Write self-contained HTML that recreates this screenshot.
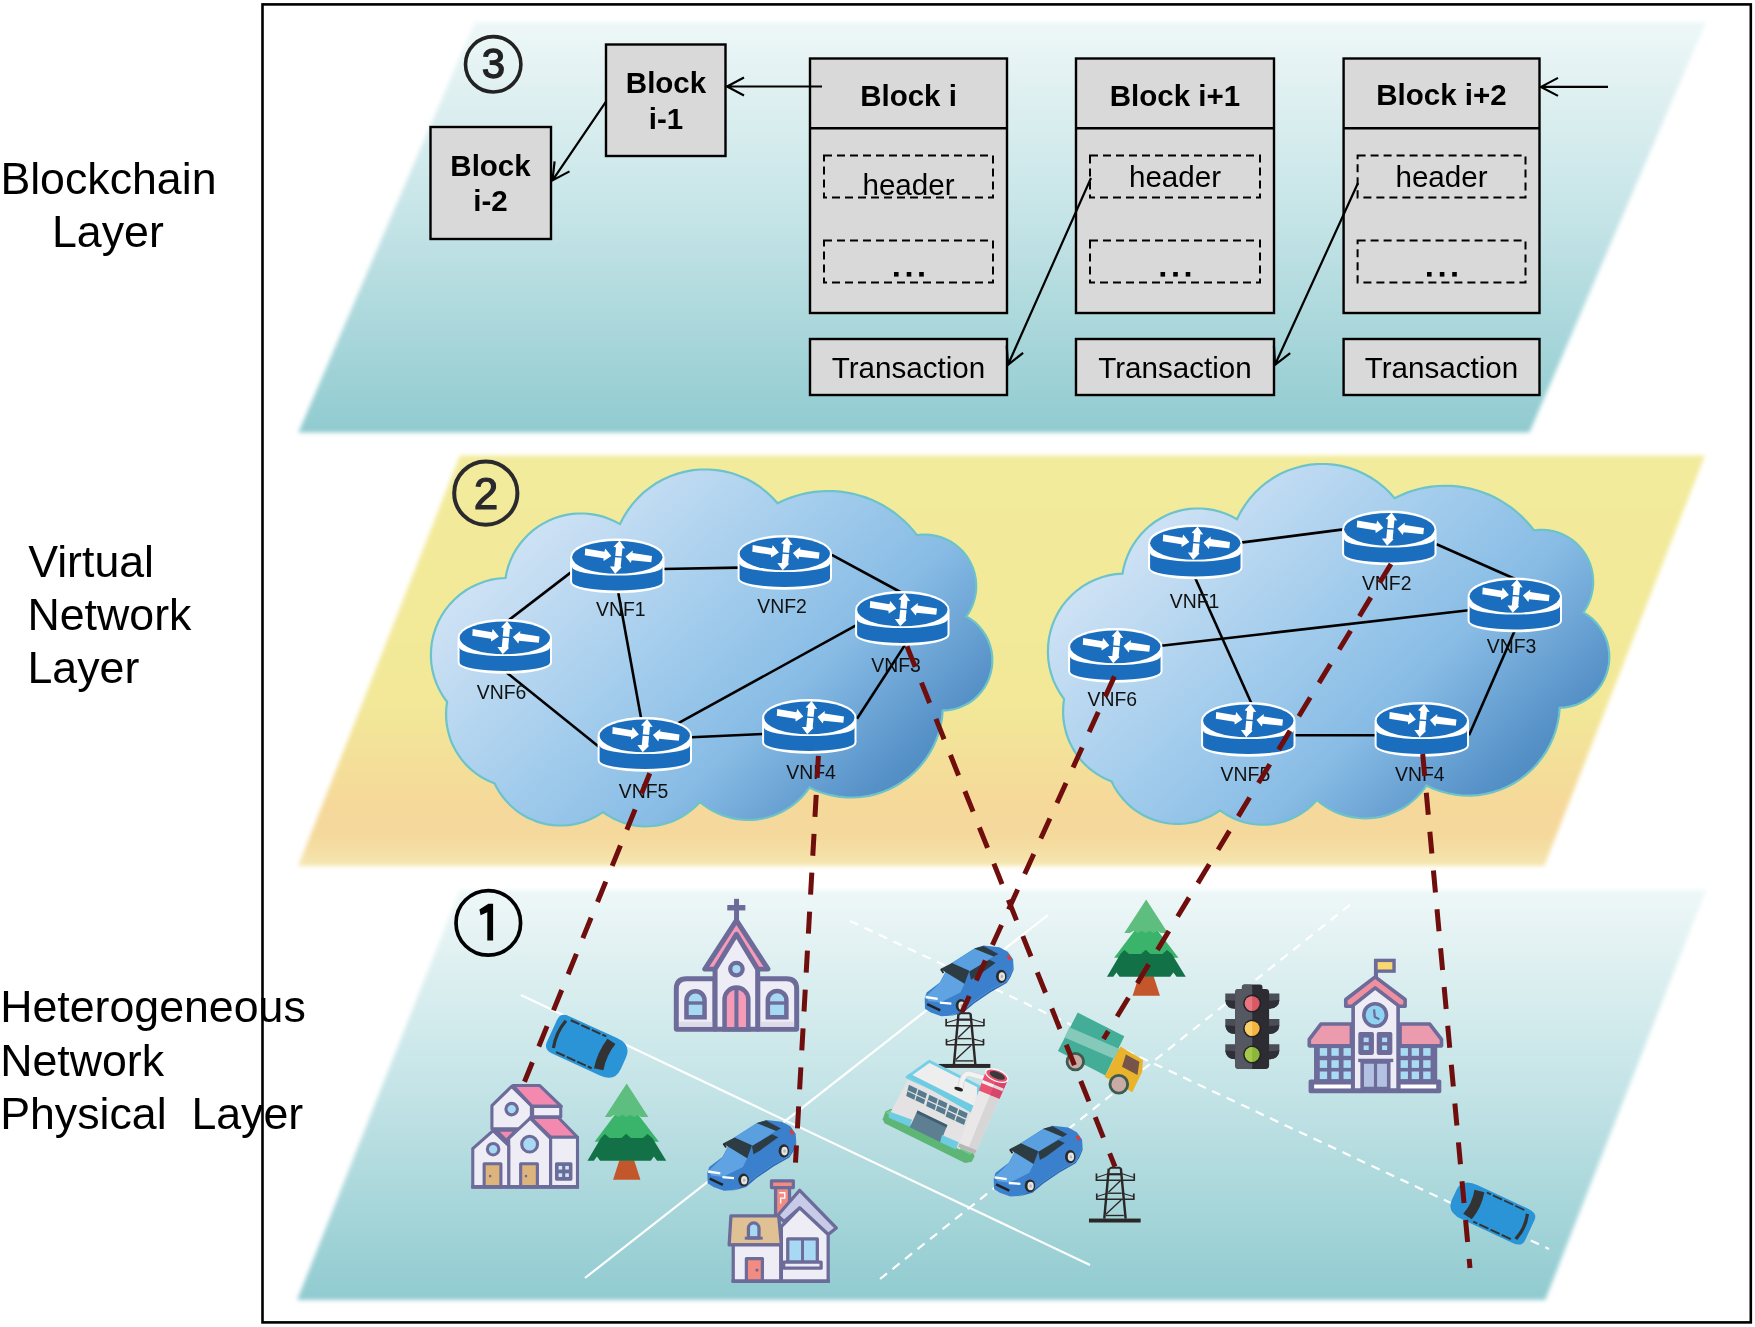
<!DOCTYPE html>
<html><head><meta charset="utf-8"><style>
html,body{margin:0;padding:0;background:#fff;}
body{width:1755px;height:1327px;overflow:hidden;}
svg{display:block;will-change:transform;}
</style></head><body>
<svg width="1755" height="1327" viewBox="0 0 1755 1327">
<defs>
<linearGradient id="gTeal" x1="0" y1="0" x2="0" y2="1">
 <stop offset="0" stop-color="#eef7f7"/><stop offset="0.5" stop-color="#c3e3e6"/><stop offset="1" stop-color="#90cbd0"/>
</linearGradient>
<linearGradient id="gYel" x1="0" y1="0" x2="0" y2="1">
 <stop offset="0" stop-color="#f2eb9b"/><stop offset="0.6" stop-color="#f2e898"/><stop offset="0.86" stop-color="#f5d89a"/><stop offset="0.93" stop-color="#f5d99c"/><stop offset="1" stop-color="#f4e6b0"/>
</linearGradient>
<linearGradient id="gCloud" gradientUnits="userSpaceOnUse" x1="520" y1="512" x2="900" y2="917">
 <stop offset="0" stop-color="#d3e4f5"/><stop offset="0.33" stop-color="#a6ceed"/><stop offset="0.57" stop-color="#88bce5"/><stop offset="0.8" stop-color="#5590c7"/><stop offset="1" stop-color="#4379b6"/>
</linearGradient>
<linearGradient id="gCloud2" href="#gCloud" gradientTransform="translate(617,-5)"/>
<filter id="soft" x="-5%" y="-5%" width="110%" height="110%"><feGaussianBlur stdDeviation="2.1"/></filter>
<g id="router">
 <path d="M1.2,18.3 A46,17.6 0 0 1 93.4,18.3 L93.4,43 A46,10.2 0 0 1 1.2,43 Z" fill="#fff" stroke="#fff" stroke-width="2.2"/>
 <path d="M2.1,27.9 L2.1,43 A45.2,8.4 0 0 0 92.5,43 L92.5,27.9 A45.2,8.7 0 0 1 2.1,27.9 Z" fill="#1b6ebd"/>
 <ellipse cx="47.3" cy="18.3" rx="45.2" ry="16.4" fill="#1b6ebd"/>
 <path d="M15.2,9.6 L34.4,12.7 L35.2,9.6 L41.4,17 L33.7,22.1 L33.4,19.3 L14.8,16.3 Z" fill="#fff"/>
 <path d="M82,17 L62.6,14 L62.8,11.6 L55.4,17.5 L60.8,24 L61.6,21.2 L81.3,23.2 Z" fill="#fff"/>
 <path d="M49.6,1.4 L55.2,9.4 L52.4,9.2 L50.7,27.7 L51.5,28.4 L45.2,34.8 L39.9,27.6 L44.3,27.6 L46,8.4 L43.6,7.8 Z" fill="#fff"/>
 <path d="M41.5,17.2 L55.5,18.4" stroke="#1b6ebd" stroke-width="1.4"/>
</g>
</defs>
<rect x="262.5" y="4.4" width="1488.3" height="1318" fill="none" stroke="#000" stroke-width="2.6"/>
<path d="M475,22 L1706,22 L1529.4,432.5 L298.4,432.5 Z" fill="url(#gTeal)" filter="url(#soft)"/>
<path d="M460,455.5 L1705,455.5 L1544.2,866 L298.2,866 Z" fill="url(#gYel)" filter="url(#soft)"/>
<path d="M460,890 L1706,890 L1545.2,1300 L297.2,1300 Z" fill="url(#gTeal)" filter="url(#soft)"/>
<g font-family="'Liberation Sans', sans-serif" font-size="44.7" fill="#000">
<text x="0.4" y="194">Blockchain</text>
<text x="52" y="247.4">Layer</text>
<text x="28.2" y="576.7">Virtual</text>
<text x="27.5" y="630">Network</text>
<text x="27.5" y="683.3">Layer</text>
<text x="0.2" y="1022.2">Heterogeneous</text>
<text x="0.2" y="1075.6">Network</text>
<text x="0.2" y="1129.4" xml:space="preserve">Physical  Layer</text>
</g>
<circle cx="493.2" cy="64.3" r="27.7" fill="none" stroke="#222" stroke-width="3.6"/>
<text x="493.4" y="78" font-family="'Liberation Sans', sans-serif" font-size="42" text-anchor="middle" fill="#222" stroke="#222" stroke-width="1.3">3</text>
<circle cx="485.8" cy="493.1" r="31.6" fill="none" stroke="#2a2a2e" stroke-width="4"/>
<text x="486" y="508.6" font-family="'Liberation Sans', sans-serif" font-size="44" text-anchor="middle" fill="#2a2a2e" stroke="#2a2a2e" stroke-width="1.2">2</text>
<circle cx="488.3" cy="922.9" r="32.3" fill="none" stroke="#000" stroke-width="3.7"/>
<path d="M487.3,940.4 L487.3,912.2 L480.6,915.2 L479.4,909.6 L488.4,903.8 L493.1,903.8 L493.1,940.4 Z" fill="#000"/>
<rect x="606.0" y="44.5" width="119.5" height="111.5" fill="#d9d9d9" stroke="#000" stroke-width="2.4"/>
<rect x="430.5" y="127.0" width="120.5" height="112.0" fill="#d9d9d9" stroke="#000" stroke-width="2.4"/>
<g font-family="'Liberation Sans', sans-serif" font-size="29.5" font-weight="bold" text-anchor="middle" fill="#000">
<text x="666" y="92.7">Block</text><text x="666" y="128.5">i-1</text>
<text x="490.5" y="175.5">Block</text><text x="490.5" y="211.3">i-2</text>
</g>
<rect x="810.0" y="58.5" width="197.0" height="254.5" fill="#d9d9d9" stroke="#000" stroke-width="2.4"/>
<line x1="810.0" y1="128.3" x2="1007.0" y2="128.3" stroke="#000" stroke-width="2.4"/>
<text x="908.5" y="106.0" font-family="'Liberation Sans', sans-serif" font-size="29.5" font-weight="bold" text-anchor="middle">Block i</text>
<rect x="824.0" y="155.5" width="169.0" height="42" fill="none" stroke="#000" stroke-width="2" stroke-dasharray="8,5"/>
<rect x="824.0" y="240.5" width="169.0" height="42" fill="none" stroke="#000" stroke-width="2" stroke-dasharray="8,5"/>
<text x="908.5" y="195.3" font-family="'Liberation Sans', sans-serif" font-size="29.6" text-anchor="middle">header</text>
<rect x="894.0" y="272" width="4.6" height="4.6" fill="#000"/>
<rect x="906.7" y="272" width="4.6" height="4.6" fill="#000"/>
<rect x="919.2" y="272" width="4.6" height="4.6" fill="#000"/>
<rect x="810.0" y="339.0" width="197.0" height="56.0" fill="#d9d9d9" stroke="#000" stroke-width="2.4"/>
<text x="908.5" y="377.6" font-family="'Liberation Sans', sans-serif" font-size="29.6" text-anchor="middle">Transaction</text>
<rect x="1076.0" y="58.5" width="198.0" height="254.5" fill="#d9d9d9" stroke="#000" stroke-width="2.4"/>
<line x1="1076.0" y1="128.3" x2="1274.0" y2="128.3" stroke="#000" stroke-width="2.4"/>
<text x="1175.0" y="106.0" font-family="'Liberation Sans', sans-serif" font-size="29.5" font-weight="bold" text-anchor="middle">Block i+1</text>
<rect x="1090.0" y="155.5" width="170.0" height="42" fill="none" stroke="#000" stroke-width="2" stroke-dasharray="8,5"/>
<rect x="1090.0" y="240.5" width="170.0" height="42" fill="none" stroke="#000" stroke-width="2" stroke-dasharray="8,5"/>
<text x="1175.0" y="186.7" font-family="'Liberation Sans', sans-serif" font-size="29.6" text-anchor="middle">header</text>
<rect x="1160.5" y="272" width="4.6" height="4.6" fill="#000"/>
<rect x="1173.2" y="272" width="4.6" height="4.6" fill="#000"/>
<rect x="1185.7" y="272" width="4.6" height="4.6" fill="#000"/>
<rect x="1076.0" y="339.0" width="198.0" height="56.0" fill="#d9d9d9" stroke="#000" stroke-width="2.4"/>
<text x="1175.0" y="377.6" font-family="'Liberation Sans', sans-serif" font-size="29.6" text-anchor="middle">Transaction</text>
<rect x="1343.6" y="58.5" width="195.9" height="254.5" fill="#d9d9d9" stroke="#000" stroke-width="2.4"/>
<line x1="1343.6" y1="128.3" x2="1539.5" y2="128.3" stroke="#000" stroke-width="2.4"/>
<text x="1441.5" y="104.8" font-family="'Liberation Sans', sans-serif" font-size="29.5" font-weight="bold" text-anchor="middle">Block i+2</text>
<rect x="1357.6" y="155.5" width="167.9" height="42" fill="none" stroke="#000" stroke-width="2" stroke-dasharray="8,5"/>
<rect x="1357.6" y="240.5" width="167.9" height="42" fill="none" stroke="#000" stroke-width="2" stroke-dasharray="8,5"/>
<text x="1441.5" y="186.7" font-family="'Liberation Sans', sans-serif" font-size="29.6" text-anchor="middle">header</text>
<rect x="1427.0" y="272" width="4.6" height="4.6" fill="#000"/>
<rect x="1439.8" y="272" width="4.6" height="4.6" fill="#000"/>
<rect x="1452.2" y="272" width="4.6" height="4.6" fill="#000"/>
<rect x="1343.6" y="339.0" width="195.9" height="56.0" fill="#d9d9d9" stroke="#000" stroke-width="2.4"/>
<text x="1441.5" y="377.6" font-family="'Liberation Sans', sans-serif" font-size="29.6" text-anchor="middle">Transaction</text>
<path d="M822.0,86.5 L727.0,86.5 M744.0,77.5 L727.0,86.5 L744.0,95.5" fill="none" stroke="#000" stroke-width="2.2"/>
<path d="M605.8,101.8 L552.5,180.4 M554.6,161.3 L552.5,180.4 L569.5,171.4" fill="none" stroke="#000" stroke-width="2.2"/>
<path d="M1608.0,86.9 L1541.0,86.9 M1558.0,77.9 L1541.0,86.9 L1558.0,95.9" fill="none" stroke="#000" stroke-width="2.2"/>
<path d="M1091.0,178.0 L1008.0,364.8 M1006.7,345.6 L1008.0,364.8 L1023.1,352.9" fill="none" stroke="#000" stroke-width="2.2"/>
<path d="M1358.0,183.0 L1275.0,364.8 M1273.9,345.6 L1275.0,364.8 L1290.2,353.1" fill="none" stroke="#000" stroke-width="2.2"/>
<path d="M447.1,702.0L443.0,696.2L439.5,690.1L436.5,683.7L434.2,677.1L432.4,670.3L431.3,663.3L430.9,656.2L431.1,649.2L431.9,642.2L433.4,635.3L435.5,628.6L438.2,622.0L441.5,615.8L445.3,609.9L449.7,604.4L454.6,599.3L459.9,594.6L465.6,590.5L471.7,586.9L478.1,583.9L484.7,581.5L491.5,579.7L498.5,578.5L505.5,578.0L505.5,578.0L506.7,571.9L508.4,565.9L510.6,560.1L513.2,554.5L516.3,549.1L519.9,544.0L523.8,539.2L528.1,534.7L532.7,530.6L537.7,526.9L543.0,523.6L548.5,520.7L554.2,518.3L560.1,516.4L566.1,514.9L572.3,513.9L578.4,513.5L584.7,513.5L590.8,514.1L597.0,515.1L603.0,516.6L608.8,518.7L614.5,521.2L620.0,524.1L620.0,524.1L623.6,517.1L627.8,510.4L632.5,504.1L637.7,498.2L643.4,492.7L649.6,487.8L656.1,483.3L663.0,479.5L670.2,476.2L677.7,473.6L685.3,471.6L693.1,470.2L700.9,469.5L708.8,469.5L716.7,470.1L724.5,471.4L732.1,473.3L739.6,475.9L746.8,479.1L753.7,482.8L760.3,487.2L766.5,492.1L772.3,497.5L777.6,503.3L777.6,503.3L783.4,500.5L789.4,498.1L795.6,496.0L801.8,494.2L808.1,492.9L814.5,491.9L821.0,491.3L827.4,491.0L833.9,491.2L840.4,491.7L846.8,492.6L853.1,493.8L859.4,495.5L865.5,497.4L871.6,499.8L877.5,502.5L883.2,505.5L888.7,508.9L894.0,512.5L899.1,516.5L904.0,520.8L908.6,525.3L913.0,530.1L917.0,535.2L917.0,535.2L922.0,534.7L927.1,534.7L932.1,535.1L937.0,536.1L941.9,537.5L946.5,539.4L951.0,541.8L955.2,544.6L959.1,547.8L962.7,551.3L965.9,555.2L968.7,559.4L971.1,563.8L973.1,568.4L974.6,573.3L975.6,578.2L976.1,583.2L976.2,588.2L975.7,593.3L974.7,598.2L973.3,603.1L971.4,607.7L969.1,612.2L966.3,616.4L966.3,616.4L971.0,619.3L975.3,622.7L979.2,626.5L982.7,630.8L985.7,635.4L988.2,640.3L990.1,645.5L991.4,650.8L992.2,656.2L992.3,661.7L991.9,667.2L990.8,672.6L989.2,677.9L987.0,682.9L984.3,687.7L981.1,692.1L977.4,696.2L973.3,699.8L968.8,703.0L963.9,705.6L958.9,707.7L953.6,709.3L948.2,710.2L942.7,710.6L942.7,710.6L942.0,718.2L940.6,725.7L938.7,733.0L936.1,740.2L933.0,747.1L929.3,753.7L925.0,760.0L920.3,766.0L915.1,771.5L909.4,776.6L903.3,781.2L896.9,785.2L890.2,788.7L883.2,791.7L875.9,794.1L868.6,795.8L861.0,797.0L853.4,797.5L845.8,797.4L838.3,796.6L830.8,795.2L823.5,793.3L816.3,790.7L809.4,787.5L809.4,787.5L806.3,791.7L803.0,795.7L799.4,799.4L795.5,802.9L791.4,806.1L787.1,808.9L782.5,811.5L777.8,813.8L773.0,815.7L768.1,817.2L763.0,818.5L757.9,819.3L752.7,819.8L747.5,819.9L742.3,819.7L737.1,819.1L732.0,818.1L727.0,816.8L722.1,815.1L717.3,813.1L712.7,810.7L708.2,808.1L703.9,805.1L699.9,801.8L699.9,801.8L696.9,805.1L693.6,808.1L690.2,811.0L686.6,813.7L682.9,816.1L679.0,818.2L674.9,820.2L670.8,821.9L666.6,823.3L662.2,824.4L657.9,825.3L653.5,825.9L649.0,826.2L644.5,826.3L640.1,826.1L635.6,825.6L631.2,824.8L626.9,823.7L622.6,822.4L618.5,820.8L614.4,819.0L610.5,816.9L606.7,814.6L603.0,812.0L603.0,812.0L598.6,814.9L593.9,817.5L589.1,819.8L584.1,821.7L579.0,823.2L573.8,824.3L568.5,825.1L563.2,825.5L557.9,825.5L552.6,825.1L547.3,824.3L542.1,823.1L537.0,821.6L532.0,819.6L527.2,817.4L522.6,814.8L518.1,811.8L513.9,808.5L510.0,805.0L506.3,801.1L502.9,797.0L499.8,792.7L497.0,788.1L494.6,783.4L494.6,783.4L490.6,781.8L486.8,780.0L483.0,778.0L479.4,775.8L475.9,773.4L472.5,770.7L469.3,767.9L466.3,764.9L463.5,761.7L460.8,758.4L458.4,754.9L456.1,751.3L454.1,747.6L452.2,743.7L450.6,739.8L449.3,735.7L448.2,731.6L447.3,727.4L446.6,723.2L446.2,719.0L446.1,714.7L446.2,710.5L446.5,706.2L447.1,702.0Z" fill="url(#gCloud)" stroke="#6cc3c9" stroke-width="2.2"/>
<path d="M1064.1,699.1L1060.0,693.2L1056.5,687.1L1053.5,680.6L1051.2,673.9L1049.4,667.0L1048.3,659.9L1047.9,652.8L1048.1,645.7L1048.9,638.6L1050.4,631.6L1052.5,624.8L1055.2,618.2L1058.5,611.9L1062.3,605.9L1066.7,600.4L1071.6,595.2L1076.9,590.5L1082.6,586.3L1088.7,582.7L1095.1,579.7L1101.7,577.2L1108.5,575.4L1115.5,574.2L1122.5,573.7L1122.5,573.7L1123.7,567.5L1125.4,561.5L1127.6,555.6L1130.2,550.0L1133.3,544.5L1136.9,539.3L1140.8,534.5L1145.1,530.0L1149.7,525.8L1154.7,522.0L1160.0,518.7L1165.5,515.8L1171.2,513.3L1177.1,511.4L1183.1,509.9L1189.3,508.9L1195.4,508.5L1201.7,508.5L1207.8,509.1L1214.0,510.1L1220.0,511.7L1225.8,513.7L1231.5,516.2L1237.0,519.2L1237.0,519.2L1240.6,512.1L1244.8,505.3L1249.5,498.9L1254.7,493.0L1260.4,487.5L1266.6,482.5L1273.1,478.0L1280.0,474.1L1287.2,470.8L1294.7,468.2L1302.3,466.1L1310.1,464.7L1317.9,464.0L1325.8,464.0L1333.7,464.6L1341.5,465.9L1349.1,467.9L1356.6,470.5L1363.8,473.7L1370.7,477.5L1377.3,481.9L1383.5,486.8L1389.3,492.3L1394.6,498.2L1394.6,498.2L1400.4,495.4L1406.4,492.9L1412.6,490.8L1418.8,489.0L1425.1,487.6L1431.5,486.6L1438.0,486.0L1444.4,485.8L1450.9,485.9L1457.4,486.4L1463.8,487.3L1470.1,488.6L1476.4,490.2L1482.5,492.3L1488.6,494.6L1494.5,497.3L1500.2,500.4L1505.7,503.8L1511.0,507.5L1516.1,511.5L1521.0,515.9L1525.6,520.5L1530.0,525.3L1534.0,530.4L1534.0,530.4L1539.0,529.9L1544.1,529.9L1549.1,530.4L1554.0,531.3L1558.9,532.8L1563.5,534.7L1568.0,537.1L1572.2,539.9L1576.1,543.1L1579.7,546.7L1582.9,550.6L1585.7,554.9L1588.1,559.3L1590.1,564.0L1591.6,568.9L1592.6,573.9L1593.1,579.0L1593.2,584.1L1592.7,589.1L1591.7,594.1L1590.3,599.0L1588.4,603.8L1586.1,608.3L1583.3,612.5L1583.3,612.5L1588.0,615.5L1592.3,618.9L1596.2,622.8L1599.7,627.1L1602.7,631.7L1605.2,636.7L1607.1,641.9L1608.4,647.3L1609.2,652.8L1609.3,658.4L1608.9,663.9L1607.8,669.3L1606.2,674.7L1604.0,679.7L1601.3,684.6L1598.1,689.1L1594.4,693.2L1590.3,696.9L1585.8,700.0L1580.9,702.7L1575.9,704.9L1570.6,706.4L1565.2,707.4L1559.7,707.8L1559.7,707.8L1559.0,715.4L1557.6,723.0L1555.7,730.4L1553.1,737.6L1550.0,744.6L1546.3,751.4L1542.0,757.7L1537.3,763.7L1532.1,769.3L1526.4,774.4L1520.3,779.1L1513.9,783.2L1507.2,786.8L1500.2,789.7L1492.9,792.1L1485.6,793.9L1478.0,795.1L1470.4,795.6L1462.8,795.5L1455.3,794.7L1447.8,793.3L1440.5,791.3L1433.3,788.7L1426.4,785.5L1426.4,785.5L1423.3,789.8L1420.0,793.8L1416.4,797.5L1412.5,801.0L1408.4,804.3L1404.1,807.2L1399.5,809.8L1394.8,812.1L1390.0,814.0L1385.1,815.6L1380.0,816.8L1374.9,817.7L1369.7,818.2L1364.5,818.3L1359.3,818.0L1354.1,817.4L1349.0,816.4L1344.0,815.1L1339.1,813.4L1334.3,811.4L1329.7,809.0L1325.2,806.3L1320.9,803.3L1316.9,800.0L1316.9,800.0L1313.9,803.3L1310.6,806.4L1307.2,809.3L1303.6,811.9L1299.9,814.4L1296.0,816.6L1291.9,818.5L1287.8,820.2L1283.6,821.7L1279.2,822.8L1274.9,823.7L1270.5,824.3L1266.0,824.7L1261.5,824.7L1257.1,824.5L1252.6,824.0L1248.2,823.2L1243.9,822.1L1239.6,820.8L1235.5,819.2L1231.4,817.3L1227.5,815.2L1223.7,812.9L1220.0,810.3L1220.0,810.3L1215.6,813.2L1210.9,815.9L1206.1,818.1L1201.1,820.0L1196.0,821.6L1190.8,822.7L1185.5,823.5L1180.2,823.9L1174.9,823.9L1169.6,823.5L1164.3,822.7L1159.1,821.5L1154.0,819.9L1149.0,818.0L1144.2,815.7L1139.6,813.1L1135.1,810.1L1130.9,806.8L1127.0,803.2L1123.3,799.3L1119.9,795.1L1116.8,790.8L1114.0,786.2L1111.6,781.4L1111.6,781.4L1107.6,779.8L1103.8,778.0L1100.0,775.9L1096.4,773.7L1092.9,771.2L1089.5,768.6L1086.3,765.7L1083.3,762.7L1080.5,759.5L1077.8,756.1L1075.4,752.6L1073.1,748.9L1071.1,745.1L1069.2,741.2L1067.6,737.2L1066.3,733.2L1065.2,729.0L1064.3,724.8L1063.6,720.5L1063.2,716.2L1063.1,711.9L1063.2,707.6L1063.5,703.3L1064.1,699.1Z" fill="url(#gCloud2)" stroke="#6cc3c9" stroke-width="2.2"/>
<line x1="508.0" y1="620.7" x2="570.6" y2="572.6" stroke="#000" stroke-width="2.6"/>
<line x1="662.7" y1="569.0" x2="738.7" y2="567.6" stroke="#000" stroke-width="2.6"/>
<line x1="831.8" y1="554.8" x2="905.0" y2="594.5" stroke="#000" stroke-width="2.6"/>
<line x1="618.3" y1="592.8" x2="641.2" y2="718.8" stroke="#000" stroke-width="2.6"/>
<line x1="505.7" y1="671.8" x2="599.8" y2="747.4" stroke="#000" stroke-width="2.6"/>
<line x1="677.0" y1="723.9" x2="856.0" y2="625.4" stroke="#000" stroke-width="2.6"/>
<line x1="691.6" y1="737.3" x2="762.9" y2="734.0" stroke="#000" stroke-width="2.6"/>
<line x1="857.0" y1="718.8" x2="905.0" y2="644.9" stroke="#000" stroke-width="2.6"/>
<line x1="1240.6" y1="542.6" x2="1343.4" y2="529.4" stroke="#000" stroke-width="2.6"/>
<line x1="1436.6" y1="544.2" x2="1517.5" y2="580.0" stroke="#000" stroke-width="2.6"/>
<line x1="1161.3" y1="645.7" x2="1468.6" y2="610.3" stroke="#000" stroke-width="2.6"/>
<line x1="1195.3" y1="578.3" x2="1251.5" y2="703.5" stroke="#000" stroke-width="2.6"/>
<line x1="1294.5" y1="735.2" x2="1375.4" y2="735.2" stroke="#000" stroke-width="2.6"/>
<line x1="1469.0" y1="735.2" x2="1515.0" y2="630.0" stroke="#000" stroke-width="2.6"/>
<use href="#router" x="570.0" y="539.0"/>
<use href="#router" x="737.5" y="535.5"/>
<use href="#router" x="855.0" y="591.5"/>
<use href="#router" x="457.5" y="619.5"/>
<use href="#router" x="597.5" y="717.5"/>
<use href="#router" x="762.0" y="699.5"/>
<use href="#router" x="1148.0" y="525.0"/>
<use href="#router" x="1342.0" y="511.0"/>
<use href="#router" x="1467.5" y="578.0"/>
<use href="#router" x="1068.0" y="628.5"/>
<use href="#router" x="1201.0" y="702.5"/>
<use href="#router" x="1374.5" y="702.5"/>
<g font-family="'Liberation Sans', sans-serif" font-size="19.4" text-anchor="middle" fill="#111">
<text x="620.8" y="616.0">VNF1</text>
<text x="782.0" y="613.0">VNF2</text>
<text x="896.0" y="671.8">VNF3</text>
<text x="501.5" y="699.0">VNF6</text>
<text x="643.6" y="797.8">VNF5</text>
<text x="811.0" y="779.0">VNF4</text>
<text x="1194.5" y="607.7">VNF1</text>
<text x="1386.7" y="589.8">VNF2</text>
<text x="1511.6" y="653.0">VNF3</text>
<text x="1112.3" y="706.0">VNF6</text>
<text x="1245.4" y="780.5">VNF5</text>
<text x="1419.8" y="780.5">VNF4</text>
</g>
<g stroke="#fff" stroke-width="2.2" fill="none">
<line x1="521" y1="995" x2="1090" y2="1265"/>
<line x1="585" y1="1278" x2="1048" y2="915"/>
<line x1="850" y1="921" x2="1549" y2="1249" stroke-dasharray="9,7"/>
<line x1="880" y1="1279" x2="1356" y2="900" stroke-dasharray="9,7"/>
</g>
<g transform="translate(665.00,890.00) scale(0.11302)">
<g fill="#6c6b99"><rect x="611" y="78" width="44" height="200"/><rect x="551" y="133" width="160" height="48"/></g>
<path d="M632,268 L352,700 L912,700 Z" fill="#f59ab7" stroke="#6c6b99" stroke-width="44" stroke-linejoin="round"/>
<path d="M443,785 L190,785 Q100,785 100,875 L100,1232 L443,1232 Z" fill="#eeedf6" stroke="#6c6b99" stroke-width="44" stroke-linejoin="round"/>
<path d="M820,785 L1075,785 Q1165,785 1165,875 L1165,1232 L820,1232 Z" fill="#eeedf6" stroke="#6c6b99" stroke-width="44" stroke-linejoin="round"/>
<rect x="125" y="1165" width="296" height="45" fill="#dddbe9"/><rect x="842" y="1165" width="300" height="45" fill="#dddbe9"/>
<path d="M632,392 L443,700 L443,1232 L820,1232 L820,700 Z" fill="#eeedf6" stroke="#6c6b99" stroke-width="44" stroke-linejoin="round"/>
<circle cx="632" cy="700" r="55" fill="#a7d9f3" stroke="#6c6b99" stroke-width="38"/>
<path d="M527,1232 L527,968 A105,105 0 0 1 737,968 L737,1232 Z" fill="#f59ab7" stroke="#6c6b99" stroke-width="40"/>
<line x1="632" y1="870" x2="632" y2="1232" stroke="#6c6b99" stroke-width="36"/>
<path d="M190,1125 L190,975 A80,80 0 0 1 350,975 L350,1125 Z" fill="#a7d9f3" stroke="#6c6b99" stroke-width="40"/>
<path d="M910,1125 L910,975 A82,82 0 0 1 1074,975 L1074,1125 Z" fill="#a7d9f3" stroke="#6c6b99" stroke-width="40"/>
<line x1="190" y1="1000" x2="350" y2="1000" stroke="#6c6b99" stroke-width="30"/>
<line x1="910" y1="1000" x2="1074" y2="1000" stroke="#6c6b99" stroke-width="30"/>
</g>
<g transform="translate(465.00,1075.00) scale(0.11966)">
<g stroke="#6c6b99" stroke-width="26" stroke-linejoin="round">
<path d="M225,450 L225,255 L390,95 L555,255 L555,450 Z" fill="#eeedf6"/>
<path d="M400,88 L625,88 L805,262 L560,262 Z" fill="#f389ae"/>
<rect x="565" y="262" width="235" height="88" fill="#eeedf6"/>
<circle cx="390" cy="285" r="48" fill="#a7d9f3"/>
<path d="M545,355 L780,355 L940,520 L715,520 Z" fill="#f389ae"/>
<rect x="715" y="520" width="225" height="415" fill="#eeedf6"/>
<rect x="765" y="742" width="120" height="128" fill="#6c6b99"/>
<path d="M262,462 L428,462 L345,548 Z" fill="#f389ae"/>
<path d="M365,935 L365,530 L545,360 L715,530 L715,935 Z" fill="#eeedf6"/>
<path d="M65,935 L65,615 L235,465 L365,590 L365,935 Z" fill="#eeedf6"/>
<circle cx="235" cy="620" r="48" fill="#a7d9f3"/>
<circle cx="540" cy="578" r="66" fill="#a7d9f3"/>
<rect x="160" y="742" width="140" height="193" fill="#dcb47c"/>
<rect x="465" y="742" width="140" height="193" fill="#dcb47c"/>
</g>
<g fill="#c9ecfa"><rect x="782" y="760" width="30" height="30"/><rect x="838" y="760" width="30" height="30"/><rect x="782" y="822" width="30" height="30"/><rect x="838" y="822" width="30" height="30"/></g>
<circle cx="210" cy="845" r="11" fill="#6c6b99"/><circle cx="510" cy="845" r="11" fill="#6c6b99"/>
<line x1="52" y1="935" x2="953" y2="935" stroke="#6c6b99" stroke-width="30"/>
</g>
<g transform="translate(1050.00,890.00) scale(0.15820)">
<path d="M562,545 L655,545 L695,668 L522,668 Z" fill="#c4562c"/>
<path d="M540,250 L675,250 L812,428 L405,428 Z" fill="#3bb46b"/>
<path d="M445,405 L470,380 L500,405 L575,405 L605,378 L635,405 L710,405 L740,380 L770,405 L858,548 L800,548 L780,522 L760,548 L440,548 L420,522 L400,548 L360,548 Z" fill="#137148"/>
<path d="M608,60 L745,272 L700,272 L680,258 L655,272 L630,258 L605,272 L580,258 L555,272 L530,258 L505,272 L470,272 Z" fill="#5dbe7f"/>
</g>
<g transform="translate(530.50,1074.00) scale(0.15820)">
<path d="M562,545 L655,545 L695,668 L522,668 Z" fill="#c4562c"/>
<path d="M540,250 L675,250 L812,428 L405,428 Z" fill="#3bb46b"/>
<path d="M445,405 L470,380 L500,405 L575,405 L605,378 L635,405 L710,405 L740,380 L770,405 L858,548 L800,548 L780,522 L760,548 L440,548 L420,522 L400,548 L360,548 Z" fill="#137148"/>
<path d="M608,60 L745,272 L700,272 L680,258 L655,272 L630,258 L605,272 L580,258 L555,272 L530,258 L505,272 L470,272 Z" fill="#5dbe7f"/>
</g>
<g transform="translate(700.00,1110.00) scale(0.13563)">
<g stroke="#6c6b99" stroke-width="24" stroke-linejoin="round">
<rect x="557" y="570" width="103" height="230" fill="#f28b82"/>
<rect x="527" y="522" width="161" height="50" fill="#f28b82"/>
<path d="M735,592 L572,778 L620,822 L735,722 L945,918 L1005,870 Z" fill="#c7cbe8"/>
<path d="M600,860 L735,722 L945,918 L945,1262 L600,1262 Z" fill="#eeedf6"/>
<path d="M228,780 L580,780 L600,995 L215,995 Z" fill="#e0c193"/>
<rect x="245" y="995" width="350" height="267" fill="#eeedf6"/>
<path d="M357,942 L357,872 A39,39 0 0 1 435,872 L435,942 Z" fill="#a7d9f3"/>
<rect x="342" y="1095" width="118" height="167" fill="#f28b82"/>
<rect x="647" y="950" width="218" height="172" fill="#a7d9f3"/>
<rect x="617" y="1122" width="276" height="44" fill="#eeedf6"/>
</g>
<line x1="330" y1="945" x2="462" y2="945" stroke="#6c6b99" stroke-width="22"/>
<line x1="756" y1="950" x2="756" y2="1122" stroke="#6c6b99" stroke-width="22"/>
<circle cx="420" cy="1180" r="12" fill="#6c6b99"/>
<line x1="232" y1="1262" x2="958" y2="1262" stroke="#6c6b99" stroke-width="26"/>
<path d="M585,610 L625,610 L625,650 L595,650 L595,690" stroke="#fff" stroke-width="10" fill="none"/>
</g>
<g transform="translate(915.00,935.00) scale(0.10546)">
<path d="M92,600 L110,545 L235,450 L300,330 L345,268 L560,130 L650,100 L800,115 L880,160 L930,230 L935,300 L905,370 L870,440 L720,520 L560,630 L440,720 L330,765 L250,770 L150,735 L95,700 Z" fill="#3a80cd"/>
<path d="M470,700 L560,630 L720,520 L870,440 L905,370 L935,300 L935,330 L905,400 L870,455 L720,540 L560,650 L460,735 L330,770 Z" fill="#2c6dbb"/>
<path d="M100,585 L235,455 L300,335 L470,462 L430,545 L240,640 L130,625 Z" fill="#5fa3e3"/>
<path d="M345,268 L560,130 L780,180 L520,345 Z" fill="#5a9fe0"/>
<path d="M240,322 L350,265 L515,340 L470,462 Z" fill="#2d3c42"/>
<path d="M560,128 L650,105 L790,180 L745,205 Z" fill="#2d3c42"/>
<path d="M515,345 L705,235 L765,262 L590,390 L530,425 Z" fill="#2d3c42"/>
<ellipse cx="436" cy="668" rx="50" ry="60" fill="#2a2a2a"/><ellipse cx="442" cy="670" rx="30" ry="40" fill="#e4e4e4"/><ellipse cx="442" cy="670" rx="12" ry="16" fill="#b8b8b8"/>
<ellipse cx="818" cy="392" rx="50" ry="62" fill="#2a2a2a"/><ellipse cx="824" cy="394" rx="30" ry="41" fill="#e4e4e4"/><ellipse cx="824" cy="394" rx="12" ry="16" fill="#b8b8b8"/>
<path d="M100,588 L215,605 M235,642 L345,650" stroke="#fff" stroke-width="22" fill="none"/>
<path d="M115,655 L240,715" stroke="#222" stroke-width="24" fill="none"/>
<path d="M880,195 L905,235" stroke="#e53935" stroke-width="28"/>
<path d="M245,325 L270,360" stroke="#222" stroke-width="16"/>
</g>
<g transform="translate(697.60,1109.50) scale(0.10546)">
<path d="M92,600 L110,545 L235,450 L300,330 L345,268 L560,130 L650,100 L800,115 L880,160 L930,230 L935,300 L905,370 L870,440 L720,520 L560,630 L440,720 L330,765 L250,770 L150,735 L95,700 Z" fill="#3a80cd"/>
<path d="M470,700 L560,630 L720,520 L870,440 L905,370 L935,300 L935,330 L905,400 L870,455 L720,540 L560,650 L460,735 L330,770 Z" fill="#2c6dbb"/>
<path d="M100,585 L235,455 L300,335 L470,462 L430,545 L240,640 L130,625 Z" fill="#5fa3e3"/>
<path d="M345,268 L560,130 L780,180 L520,345 Z" fill="#5a9fe0"/>
<path d="M240,322 L350,265 L515,340 L470,462 Z" fill="#2d3c42"/>
<path d="M560,128 L650,105 L790,180 L745,205 Z" fill="#2d3c42"/>
<path d="M515,345 L705,235 L765,262 L590,390 L530,425 Z" fill="#2d3c42"/>
<ellipse cx="436" cy="668" rx="50" ry="60" fill="#2a2a2a"/><ellipse cx="442" cy="670" rx="30" ry="40" fill="#e4e4e4"/><ellipse cx="442" cy="670" rx="12" ry="16" fill="#b8b8b8"/>
<ellipse cx="818" cy="392" rx="50" ry="62" fill="#2a2a2a"/><ellipse cx="824" cy="394" rx="30" ry="41" fill="#e4e4e4"/><ellipse cx="824" cy="394" rx="12" ry="16" fill="#b8b8b8"/>
<path d="M100,588 L215,605 M235,642 L345,650" stroke="#fff" stroke-width="22" fill="none"/>
<path d="M115,655 L240,715" stroke="#222" stroke-width="24" fill="none"/>
<path d="M880,195 L905,235" stroke="#e53935" stroke-width="28"/>
<path d="M245,325 L270,360" stroke="#222" stroke-width="16"/>
</g>
<g transform="translate(984.00,1115.30) scale(0.10546)">
<path d="M92,600 L110,545 L235,450 L300,330 L345,268 L560,130 L650,100 L800,115 L880,160 L930,230 L935,300 L905,370 L870,440 L720,520 L560,630 L440,720 L330,765 L250,770 L150,735 L95,700 Z" fill="#3a80cd"/>
<path d="M470,700 L560,630 L720,520 L870,440 L905,370 L935,300 L935,330 L905,400 L870,455 L720,540 L560,650 L460,735 L330,770 Z" fill="#2c6dbb"/>
<path d="M100,585 L235,455 L300,335 L470,462 L430,545 L240,640 L130,625 Z" fill="#5fa3e3"/>
<path d="M345,268 L560,130 L780,180 L520,345 Z" fill="#5a9fe0"/>
<path d="M240,322 L350,265 L515,340 L470,462 Z" fill="#2d3c42"/>
<path d="M560,128 L650,105 L790,180 L745,205 Z" fill="#2d3c42"/>
<path d="M515,345 L705,235 L765,262 L590,390 L530,425 Z" fill="#2d3c42"/>
<ellipse cx="436" cy="668" rx="50" ry="60" fill="#2a2a2a"/><ellipse cx="442" cy="670" rx="30" ry="40" fill="#e4e4e4"/><ellipse cx="442" cy="670" rx="12" ry="16" fill="#b8b8b8"/>
<ellipse cx="818" cy="392" rx="50" ry="62" fill="#2a2a2a"/><ellipse cx="824" cy="394" rx="30" ry="41" fill="#e4e4e4"/><ellipse cx="824" cy="394" rx="12" ry="16" fill="#b8b8b8"/>
<path d="M100,588 L215,605 M235,642 L345,650" stroke="#fff" stroke-width="22" fill="none"/>
<path d="M115,655 L240,715" stroke="#222" stroke-width="24" fill="none"/>
<path d="M880,195 L905,235" stroke="#e53935" stroke-width="28"/>
<path d="M245,325 L270,360" stroke="#222" stroke-width="16"/>
</g>
<g transform="translate(1080.00,1160.00) scale(0.05275)">
<g stroke="#2b2727" fill="none" stroke-linecap="butt">
<rect x="170" y="1110" width="980" height="75" fill="#2b2727" stroke="none"/>
<line x1="545" y1="165" x2="460" y2="1112" stroke-width="46"/>
<line x1="775" y1="165" x2="865" y2="1112" stroke-width="46"/>
<path d="M555,170 L590,148 L750,148 L785,170" stroke-width="36"/>
<line x1="530" y1="270" x2="800" y2="270" stroke-width="42"/>
<line x1="300" y1="385" x2="1035" y2="385" stroke-width="26"/>
<line x1="312" y1="255" x2="312" y2="392" stroke-width="32"/>
<line x1="1028" y1="255" x2="1028" y2="392" stroke-width="32"/>
<path d="M320,330 L530,262 M800,262 L1020,330" stroke-width="20"/>
<line x1="530" y1="630" x2="790" y2="630" stroke-width="26"/>
<line x1="310" y1="745" x2="1030" y2="745" stroke-width="26"/>
<line x1="318" y1="635" x2="318" y2="752" stroke-width="32"/>
<line x1="1020" y1="635" x2="1020" y2="752" stroke-width="32"/>
<path d="M325,690 L520,630 M800,630 L1015,690" stroke-width="20"/>
<line x1="540" y1="610" x2="770" y2="390" stroke-width="26"/>
<line x1="490" y1="1030" x2="780" y2="760" stroke-width="26"/>
<line x1="490" y1="1052" x2="830" y2="1052" stroke-width="26"/>
</g></g>
<g transform="translate(929.70,1005.40) scale(0.05275)">
<g stroke="#2b2727" fill="none" stroke-linecap="butt">
<rect x="170" y="1110" width="980" height="75" fill="#2b2727" stroke="none"/>
<line x1="545" y1="165" x2="460" y2="1112" stroke-width="46"/>
<line x1="775" y1="165" x2="865" y2="1112" stroke-width="46"/>
<path d="M555,170 L590,148 L750,148 L785,170" stroke-width="36"/>
<line x1="530" y1="270" x2="800" y2="270" stroke-width="42"/>
<line x1="300" y1="385" x2="1035" y2="385" stroke-width="26"/>
<line x1="312" y1="255" x2="312" y2="392" stroke-width="32"/>
<line x1="1028" y1="255" x2="1028" y2="392" stroke-width="32"/>
<path d="M320,330 L530,262 M800,262 L1020,330" stroke-width="20"/>
<line x1="530" y1="630" x2="790" y2="630" stroke-width="26"/>
<line x1="310" y1="745" x2="1030" y2="745" stroke-width="26"/>
<line x1="318" y1="635" x2="318" y2="752" stroke-width="32"/>
<line x1="1020" y1="635" x2="1020" y2="752" stroke-width="32"/>
<path d="M325,690 L520,630 M800,630 L1015,690" stroke-width="20"/>
<line x1="540" y1="610" x2="770" y2="390" stroke-width="26"/>
<line x1="490" y1="1030" x2="780" y2="760" stroke-width="26"/>
<line x1="490" y1="1052" x2="830" y2="1052" stroke-width="26"/>
</g></g>
<g transform="translate(875.00,1050.00) scale(0.09044)">
<path d="M85,765 L115,680 L175,650 L1080,1115 L1100,1175 L1070,1235 L995,1250 L105,810 Z" fill="#5db676"/>
<path d="M120,690 L175,660 L1070,1120 L1060,1160 L150,720 Z" fill="#72c98a"/>
<path d="M165,705 L360,330 L1130,660 L940,1100 Z" fill="#e4e2e2"/>
<path d="M355,300 L600,125 L1145,400 L1140,660 Z" fill="#efeeee" stroke="#74cfe7" stroke-width="32" stroke-linejoin="round"/>
<path d="M352,285 L385,262 L1140,640 L1110,722 Z" fill="#6dcbe2"/>
<g fill="#567b8f">
<path d="M375,385 L575,480 L540,600 L345,510 Z"/>
<path d="M600,495 L800,590 L770,715 L565,620 Z"/>
<path d="M825,605 L1025,700 L985,830 L780,735 Z"/>
</g>
<g stroke="#e4e2e2" stroke-width="14"><path d="M475,432 L440,555 M360,450 L560,545 M700,542 L667,668 M583,560 L785,652 M925,652 L882,782 M805,670 L1005,765"/></g>
<path d="M470,670 L800,830 L725,1020 L385,855 Z" fill="#5e7f92"/>
<path d="M470,670 L800,830 L790,858 L460,700 Z" fill="#3f5f70"/>
<path d="M160,680 L410,770 L385,850 L150,750 Z" fill="#6dcbe2"/>
<path d="M740,940 L925,1020 L895,1100 L720,1020 Z" fill="#6dcbe2"/>
<path d="M945,430 C950,330 985,262 1040,262 L1205,310" stroke="#d8d6d6" stroke-width="66" fill="none"/>
<path d="M945,430 C950,330 985,262 1040,262 L1205,310" stroke="#f3f2f2" stroke-width="46" fill="none"/>
<ellipse cx="925" cy="432" rx="50" ry="20" transform="rotate(20 925 432)" fill="#222"/>
</g>
<path d="M986.2,1071.3 L1007.4,1079.9 L975.0,1153.9 L958.0,1147.1 Z" fill="#e9e7e7"/><path d="M997.8,1076.0 L1007.4,1079.9 L975.0,1153.9 L967.3,1150.8 Z" fill="#d7d5d5"/><path d="M959.4,1143.3 L976.6,1150.3 L975.0,1153.9 L958.0,1147.1 Z" fill="#b8b6b6"/><path d="M985.9,1071.2 L1007.7,1080.0 L1003.9,1088.7 L982.6,1080.1 Z" fill="#ea5272"/><path d="M982.9,1080.2 L1003.6,1088.6 L1002.4,1091.3 L981.8,1083.0 Z" fill="#f2f0f0"/><path d="M981.5,1082.9 L1002.7,1091.5 L999.5,1098.8 L978.8,1090.4 Z" fill="#ea5272"/><path d="M997.8,1076.0 L1007.7,1080.0 L999.5,1098.8 L990.1,1095.0 Z" fill="#d9456a"/><path d="M994.3,1084.8 L1003.6,1088.6 L1002.4,1091.3 L993.1,1087.6 Z" fill="#dddbdb"/><ellipse cx="996.8" cy="1075.6" rx="11.8" ry="5.6" transform="rotate(22.0 996.8 1075.6)" fill="#ea5272" stroke="#fff" stroke-width="1.2"/><ellipse cx="997.3" cy="1075.4" rx="8.2" ry="3.4" transform="rotate(22.0 997.3 1075.4)" fill="#3a3a3a"/>
<g transform="translate(1050.00,890.00) scale(0.15820)">
<path d="M175,775 L470,925 L350,1172 L50,1018 Z" fill="#44ad98"/>
<path d="M122,868 L440,1005 L415,1072 L92,932 Z" fill="#85c9bb"/>
<path d="M445,990 L588,1075 L582,1150 L520,1278 L345,1180 Z" fill="#e9b42c"/>
<path d="M480,1040 L565,1085 L553,1170 L455,1118 Z" fill="#765449"/>
<circle cx="160" cy="1085" r="52" fill="#c8aba5" stroke="#3d5b51" stroke-width="18"/>
<circle cx="435" cy="1228" r="56" fill="#c8aba5" stroke="#3d5b51" stroke-width="18"/>
</g>
<g transform="translate(1050.00,890.00) scale(0.15820)"><path d="M1172,655 L1108,655 L1108,695 Q1112,750 1172,750 Z" fill="#4b4d57"/><path d="M1383,655 L1450,655 L1450,695 Q1446,750 1383,750 Z" fill="#4b4d57"/><path d="M1108,695 Q1112,750 1172,750 L1172,700 Z" fill="#2f2f37"/><path d="M1450,695 Q1446,750 1383,750 L1383,700 Z" fill="#2f2f37"/><path d="M1172,815 L1108,815 L1108,855 Q1112,910 1172,910 Z" fill="#4b4d57"/><path d="M1383,815 L1450,815 L1450,855 Q1446,910 1383,910 Z" fill="#4b4d57"/><path d="M1108,855 Q1112,910 1172,910 L1172,860 Z" fill="#2f2f37"/><path d="M1450,855 Q1446,910 1383,910 L1383,860 Z" fill="#2f2f37"/><path d="M1172,975 L1108,975 L1108,1015 Q1112,1070 1172,1070 Z" fill="#4b4d57"/><path d="M1383,975 L1450,975 L1450,1015 Q1446,1070 1383,1070 Z" fill="#4b4d57"/><path d="M1108,1015 Q1112,1070 1172,1070 L1172,1020 Z" fill="#2f2f37"/><path d="M1450,1015 Q1446,1070 1383,1070 L1383,1020 Z" fill="#2f2f37"/>
<rect x="1213" y="598" width="130" height="60" rx="16" fill="#2d2c33"/>
<rect x="1213" y="598" width="65" height="60" rx="16" fill="#555761"/>
<rect x="1170" y="625" width="215" height="507" rx="22" fill="#2d2c33"/>
<rect x="1170" y="625" width="108" height="507" rx="22" fill="#555761"/>
<rect x="1250" y="625" width="28" height="507" fill="#555761"/>
<circle cx="1278" cy="718" r="57" fill="#232228"/><circle cx="1278" cy="876" r="57" fill="#232228"/><circle cx="1278" cy="1040" r="57" fill="#232228"/>
<circle cx="1278" cy="718" r="47" fill="#dd5865"/><circle cx="1278" cy="876" r="47" fill="#f4b43d"/><circle cx="1278" cy="1040" r="47" fill="#8bb83b"/>
<path d="M1278,671 A47,47 0 0 0 1278,765 Z" fill="#e87680"/>
<path d="M1278,829 A47,47 0 0 0 1278,923 Z" fill="#f8cf6a"/>
<path d="M1278,993 A47,47 0 0 0 1278,1087 Z" fill="#a6c84a"/>
</g>
<g transform="translate(1300.00,950.00) scale(0.11303)">
<line x1="672" y1="80" x2="672" y2="250" stroke="#6c6b99" stroke-width="36"/>
<rect x="672" y="92" width="160" height="95" fill="#f9d86f" stroke="#6c6b99" stroke-width="30"/>
<g stroke="#6c6b99" stroke-width="32" stroke-linejoin="round">
<path d="M665,238 L405,438 L405,498 L930,498 L930,438 Z" fill="#f08f9f"/>
<path d="M185,655 L455,655 L455,848 L82,848 L82,790 Z" fill="#ec9aad"/>
<path d="M885,655 L1148,655 L1252,790 L1252,848 L885,848 Z" fill="#ec9aad"/>
<rect x="140" y="848" width="330" height="312" fill="#6c6b99"/>
<rect x="868" y="848" width="330" height="312" fill="#6c6b99"/>
</g>
<rect x="175" y="868" width="65" height="68" fill="#a9dcf3"/><rect x="175" y="975" width="65" height="68" fill="#a9dcf3"/><rect x="175" y="1075" width="65" height="68" fill="#a9dcf3"/><rect x="278" y="868" width="65" height="68" fill="#a9dcf3"/><rect x="278" y="975" width="65" height="68" fill="#a9dcf3"/><rect x="278" y="1075" width="65" height="68" fill="#a9dcf3"/><rect x="385" y="868" width="65" height="68" fill="#a9dcf3"/><rect x="385" y="975" width="65" height="68" fill="#a9dcf3"/><rect x="385" y="1075" width="65" height="68" fill="#a9dcf3"/><rect x="890" y="868" width="65" height="68" fill="#a9dcf3"/><rect x="890" y="975" width="65" height="68" fill="#a9dcf3"/><rect x="890" y="1075" width="65" height="68" fill="#a9dcf3"/><rect x="988" y="868" width="65" height="68" fill="#a9dcf3"/><rect x="988" y="975" width="65" height="68" fill="#a9dcf3"/><rect x="988" y="1075" width="65" height="68" fill="#a9dcf3"/><rect x="1090" y="868" width="65" height="68" fill="#a9dcf3"/><rect x="1090" y="975" width="65" height="68" fill="#a9dcf3"/><rect x="1090" y="1075" width="65" height="68" fill="#a9dcf3"/>
<g stroke="#6c6b99" stroke-width="32" stroke-linejoin="round">
<rect x="92" y="1162" width="1142" height="90" fill="#6c6b99"/>
<path d="M665,335 L470,490 L470,1240 L868,1240 L868,490 Z" fill="#eeedf6"/>
<circle cx="665" cy="575" r="100" fill="#8fd3f2"/>
<rect x="532" y="742" width="106" height="170" fill="#6c6b99"/>
<rect x="695" y="742" width="106" height="170" fill="#6c6b99"/>
<rect x="550" y="990" width="235" height="235" fill="#b3c2e3"/>
</g>
<path d="M655,525 L662,592 L702,612" stroke="#6c6b99" stroke-width="20" fill="none"/>
<g fill="#a9dcf3"><rect x="563" y="775" width="45" height="40"/><rect x="563" y="845" width="45" height="40"/><rect x="726" y="775" width="45" height="40"/><rect x="726" y="845" width="45" height="40"/></g>
<rect x="515" y="962" width="310" height="30" fill="#6c6b99"/>
<line x1="668" y1="990" x2="668" y2="1235" stroke="#6c6b99" stroke-width="28"/>
<rect x="125" y="1190" width="325" height="35" fill="#fff"/><rect x="890" y="1190" width="315" height="35" fill="#fff"/>
</g>
<g transform="translate(587.4,1047.1) rotate(24.6) scale(1.053,1.000)">
<path d="M-37,-12 Q-37,-20.5 -28,-20.5 L22,-20.5 Q37.5,-20.5 37.5,-6 L37.5,6 Q37.5,20.5 22,20.5 L-28,20.5 Q-37,20.5 -37,12 Z" fill="#2a94d6"/>
<path d="M14,-16 L23,-14.5 Q19.5,0 23,14.5 L14,16.5 Q10.5,0 14,-16 Z" fill="#333"/>
<path d="M-29,-15 Q-33,0 -29,15" stroke="#333" stroke-width="3" fill="none"/>
<path d="M-25,-17.5 L12,-17.5 M-25,17.5 L12,17.5" stroke="#333" stroke-width="2" stroke-dasharray="9,2" fill="none"/>
</g>
<g transform="translate(1492.2,1212.7) rotate(205.0) scale(1.120,0.917)">
<path d="M-37,-12 Q-37,-20.5 -28,-20.5 L22,-20.5 Q37.5,-20.5 37.5,-6 L37.5,6 Q37.5,20.5 22,20.5 L-28,20.5 Q-37,20.5 -37,12 Z" fill="#2a94d6"/>
<path d="M14,-16 L23,-14.5 Q19.5,0 23,14.5 L14,16.5 Q10.5,0 14,-16 Z" fill="#333"/>
<path d="M-29,-15 Q-33,0 -29,15" stroke="#333" stroke-width="3" fill="none"/>
<path d="M-25,-17.5 L12,-17.5 M-25,17.5 L12,17.5" stroke="#333" stroke-width="2" stroke-dasharray="9,2" fill="none"/>
</g>
<g stroke="#700d0d" stroke-width="5" stroke-dasharray="22,17" fill="none">
<line x1="649.8" y1="773.2" x2="524.5" y2="1081.7"/>
<line x1="818.4" y1="755.9" x2="795.5" y2="1162.6"/>
<line x1="907.0" y1="646.4" x2="1115.0" y2="1166.7"/>
<line x1="1114.4" y1="676.4" x2="962.0" y2="1012.0"/>
<line x1="1391.0" y1="564.0" x2="1103.5" y2="1039.0"/>
<line x1="1422.7" y1="754.0" x2="1470.0" y2="1268.0"/>
</g>
</svg>
</body></html>
